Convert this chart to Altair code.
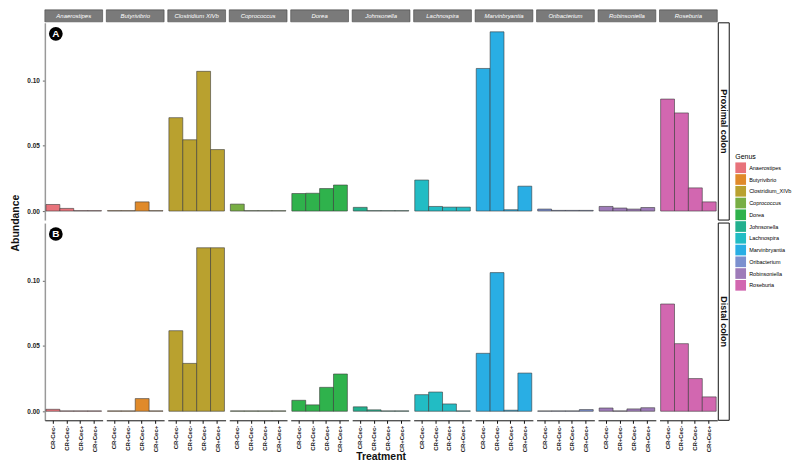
import altair as alt
import pandas as pd

genera = ["Anaerostipes", "Butyrivibrio", "Clostridium_XIVb", "Coprococcus", "Dorea",
          "Johnsonella", "Lachnospira", "Marvinbryantia", "Oribacterium", "Robinsoniella", "Roseburia"]
strip_labels = ["Anaerostipes", "Butyrivibrio", "Clostridium XIVb", "Coprococcus", "Dorea",
                "Johnsonella", "Lachnospira", "Marvinbryantia", "Oribacterium", "Robinsoniella", "Roseburia"]
colors = ["#E8737B", "#E08A2A", "#B9A12F", "#78AE44", "#2FB24C",
          "#22B08E", "#22BCC4", "#29AEE4", "#7C90CF", "#9E7BB9", "#D267B0"]
treatments = ["CR-Cec-", "CR+Cec-", "CR-Cec+", "CR+Cec+"]
regions = ["Proximal colon", "Distal colon"]
letters = ["A", "B"]

proximal = [
    [0.005, 0.002, 0.0003, 0.0003],
    [0.0003, 0.0003, 0.007, 0.0003],
    [0.0714, 0.0545, 0.1068, 0.047],
    [0.0053, 0.0003, 0.0003, 0.0003],
    [0.0134, 0.0136, 0.0172, 0.0199],
    [0.0028, 0.0003, 0.0003, 0.0003],
    [0.0237, 0.0035, 0.003, 0.003],
    [0.109, 0.137, 0.001, 0.019],
    [0.0015, 0.0005, 0.0005, 0.0005],
    [0.0035, 0.0023, 0.0015, 0.0027],
    [0.0856, 0.075, 0.0177, 0.007],
]
distal = [
    [0.0015, 0.0003, 0.0003, 0.0003],
    [0.0003, 0.0003, 0.0097, 0.0003],
    [0.0616, 0.0366, 0.125, 0.125],
    [0.0003, 0.0003, 0.0003, 0.0003],
    [0.0084, 0.0049, 0.0183, 0.0285],
    [0.0034, 0.0011, 0.0003, 0.0003],
    [0.0127, 0.0147, 0.0056, 0.0003],
    [0.0443, 0.106, 0.0008, 0.0292],
    [0.0003, 0.0003, 0.0003, 0.0013],
    [0.0025, 0.0003, 0.0018, 0.0027],
    [0.082, 0.0517, 0.025, 0.011],
]

rows = []
for region, letter, table in zip(regions, letters, [proximal, distal]):
    for g, s, vals in zip(genera, strip_labels, table):
        for t, v in zip(treatments, vals):
            rows.append({"region": region, "letter": letter, "genus": g, "strip": s,
                         "treatment": t, "value": v})
df = pd.DataFrame(rows)

W, H = 58, 198
first = "datum.treatment == 'CR-Cec-'"

bars = alt.Chart().mark_bar(stroke="#3a3a3a", strokeWidth=0.7, strokeOpacity=0.85).encode(
    x=alt.X("treatment:N", sort=treatments,
            scale=alt.Scale(paddingInner=0, paddingOuter=0.08),
            axis=alt.Axis(title=None, labelAngle=270, labelFontSize=6, labelFontWeight="bold",
                          labelColor="#222", domainColor="#111", domainWidth=1, tickColor="#111",
                          tickSize=3, labelPadding=2, labelFont="Liberation Sans")),
    y=alt.Y("value:Q", stack=None,
            scale=alt.Scale(domain=[-0.0069, 0.1439], nice=False, zero=False),
            axis=alt.Axis(title=None, values=[0, 0.05, 0.1], format=".2f", labelFontSize=6.5,
                          labelFontWeight="bold", labelColor="#222", domainColor="#999",
                          domainWidth=1.5, tickColor="#666", tickSize=2.5, labelPadding=3,
                          labelFont="Liberation Sans")),
    y2=alt.datum(0),
    color=alt.Color("genus:N", scale=alt.Scale(domain=genera, range=colors),
                    legend=alt.Legend(title="Genus", orient="none", legendX=693, legendY=131,
                                      symbolType="square", symbolSize=115, symbolStrokeWidth=0,
                                      labelFontSize=5.5, titleFontSize=7, titleFontWeight="normal",
                                      rowPadding=0.8, labelOffset=3, titlePadding=2,
                                      labelFont="Liberation Sans", titleFont="Liberation Sans")),
)

strip_rect = alt.Chart().transform_filter(
    first + " && datum.region == 'Proximal colon'"
).mark_rect(fill="#7a7a7a", stroke="#444", strokeWidth=0.6).encode(
    x=alt.value(0), x2=alt.value(W), y=alt.value(-13), y2=alt.value(-1))

strip_text = alt.Chart().transform_filter(
    first + " && datum.region == 'Proximal colon'"
).mark_text(color="white", fontStyle="italic", fontSize=6, font="Liberation Sans").encode(
    x=alt.value(W / 2), y=alt.value(-7), text="strip:N")

row_rect = alt.Chart().transform_filter(
    first + " && datum.genus == 'Roseburia'"
).mark_rect(fill="white", stroke="#111", strokeWidth=1).encode(
    x=alt.value(W + 1), x2=alt.value(W + 12), y=alt.value(0), y2=alt.value(H))

row_text = alt.Chart().transform_filter(
    first + " && datum.genus == 'Roseburia'"
).mark_text(angle=90, fontSize=9, fontWeight="bold", color="#111", font="Liberation Sans").encode(
    x=alt.value(W + 6.5), y=alt.value(H / 2), text="region:N")

circ = alt.Chart().transform_filter(
    first + " && datum.genus == 'Anaerostipes'"
).mark_point(filled=True, color="black", size=190, opacity=1).encode(
    x=alt.value(11), y=alt.value(11))

circ_text = alt.Chart().transform_filter(
    first + " && datum.genus == 'Anaerostipes'"
).mark_text(color="white", fontWeight="bold", fontSize=10, font="Liberation Sans").encode(
    x=alt.value(11), y=alt.value(11.5), text="letter:N")

y_title = alt.Chart().transform_filter(
    first + " && datum.genus == 'Anaerostipes' && datum.region == 'Proximal colon'"
).mark_text(text="Abundance", angle=270, fontSize=10.5, fontWeight="bold", color="#111",
            font="Liberation Sans").encode(x=alt.value(-29), y=alt.value(H + 3))

x_title = alt.Chart().transform_filter(
    first + " && datum.genus == 'Johnsonella' && datum.region == 'Distal colon'"
).mark_text(text="Treatment", fontSize=10.5, fontWeight="bold", color="#111",
            font="Liberation Sans").encode(x=alt.value(W / 2), y=alt.value(H + 37))

layered = alt.layer(bars, strip_rect, strip_text, row_rect, row_text, circ, circ_text,
                    y_title, x_title).properties(width=W, height=H)

chart = layered.facet(
    data=df,
    row=alt.Row("region:N", sort=regions, header=alt.Header(labels=False, title=None)),
    column=alt.Column("genus:N", sort=genera, header=alt.Header(labels=False, title=None)),
    spacing={"row": 3, "column": 3.7},
    bounds="flush",
).properties(
    padding={"left": 3, "top": 0, "right": 0, "bottom": 0}, background="white"
).configure_view(stroke=None).configure_axis(grid=False)

chart.save("out.html", embed_options={"renderer": "svg", "actions": False})
